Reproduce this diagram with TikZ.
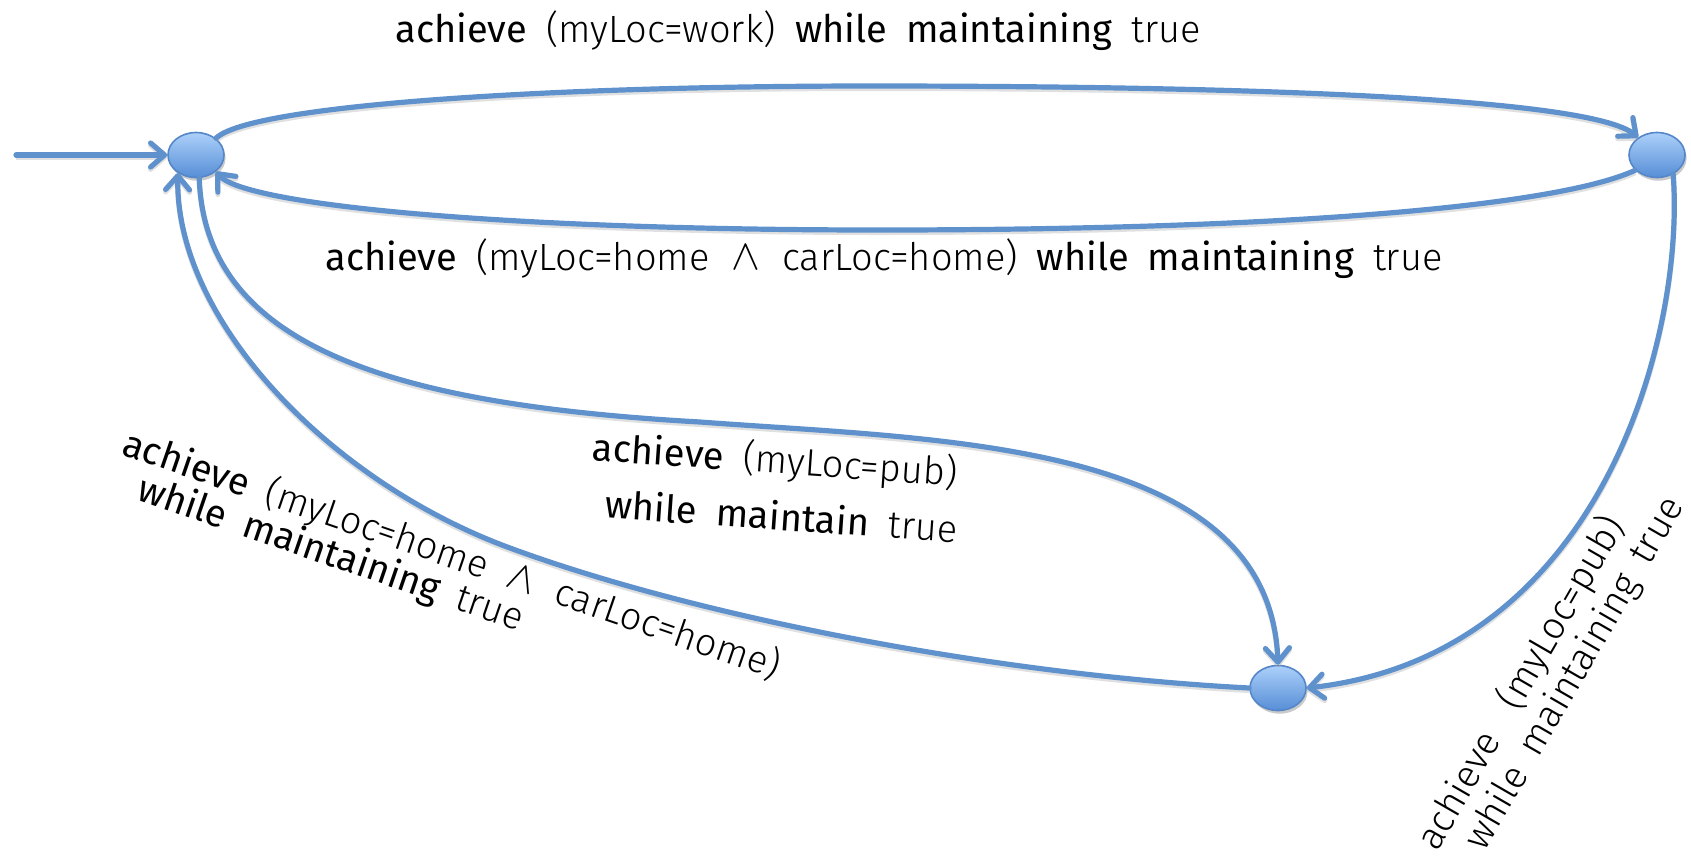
\documentclass[tikz,border=0pt]{standalone}
\usepackage{fontspec}
\setmainfont{Fira Sans Light}[BoldFont={Fira Sans}, WordSpace=1.8]
\usetikzlibrary{arrows.meta,shapes.geometric,shadows}
\definecolor{edgeblue}{RGB}{95,146,204}
\definecolor{nodetop}{RGB}{172,208,250}
\definecolor{nodebot}{RGB}{86,142,214}
\definecolor{nodeline}{RGB}{84,134,200}
\tikzset{
  state/.style={ellipse, minimum width=28pt, minimum height=22.5pt, inner sep=0pt,
    draw=nodeline, line width=0.8pt, top color=nodetop, bottom color=nodebot,
    drop shadow={shadow xshift=0.8pt, shadow yshift=-1.6pt, opacity=0.35, fill=black!60}},
  trans/.style={draw=edgeblue, line width=2.6pt, line cap=round,
    -{Straight Barb[length=7pt,width=12pt,round]},
    preaction={draw=black!40, opacity=0.3, line width=2.6pt, transform canvas={yshift=-1.2pt}}},
  lbl/.style={inner sep=0pt, font=\fontsize{19}{23}\selectfont},
}
\newcommand{\kw}[1]{\textbf{#1}}
\newcommand{\conj}{\hspace{11pt}\raisebox{0.5pt}{\scalebox{1.25}{$\wedge$}}\hspace{11pt}}
\begin{document}
\begin{tikzpicture}[x=0.5pt,y=-0.5pt]
\useasboundingbox (0,0) rectangle (1691,858);

% states
\node[state] (A) at (196,155) {};
\node[state] (B) at (1657,155) {};
\node[state] (C) at (1278,688) {};
\coordinate (start) at (16,155);

% transitions
\draw[trans] (start) -- (A.180);
\draw[trans] (A.40) .. controls (250,105) and (550,86) .. (870,86)
  .. controls (1250,86) and (1590,98) .. (B.137);
\draw[trans] (B.215) .. controls (1560,205) and (1300,230) .. (880,230)
  .. controls (500,230) and (245,205) .. (A.-40);
\draw[trans] (A.-82) .. controls (205,350) and (400,405) .. (700,422)
  .. controls (940,440) and (1270,440) .. (C.90);
\draw[trans] (C.180) .. controls (1000,675) and (700,618) .. (510,548)
  .. controls (330,482) and (175,320) .. (A.-135);
\draw[trans] (B.-50) .. controls (1685,330) and (1605,655) .. (C.0);

% labels
\node[lbl] (work) at (798,31)
  {\kw{achieve} (myLoc=work) \kw{while} \kw{maintaining} true};
\node[lbl] (home) at (884,259)
  {\kw{achieve} (myLoc=home\conj carLoc=home) \kw{while} \kw{maintaining} true};
\node[lbl, rotate=-4, anchor=east] (pubA) at (958,474)
  {\kw{achieve} (myLoc=pub)};
\node[lbl, rotate=-4, anchor=east] (pubB) at (958,528)
  {\kw{while} \kw{maintain} true};
\node[lbl, rotate=-19, anchor=base west] (backA) at (120,454)
  {\kw{achieve} (myLoc=home\conj carLoc=home)};
\node[lbl, rotate=-19, anchor=base west] (backB) at (135,499)
  {\kw{while} \kw{maintaining} true};
\node[lbl, rotate=60, anchor=base west] (drinkA) at (1437,853)
  {achieve\hspace{7pt} (myLoc=pub)};
\node[lbl, rotate=60, anchor=base west] (drinkB) at (1484,853)
  {while maintaining true};
\end{tikzpicture}
\end{document}
